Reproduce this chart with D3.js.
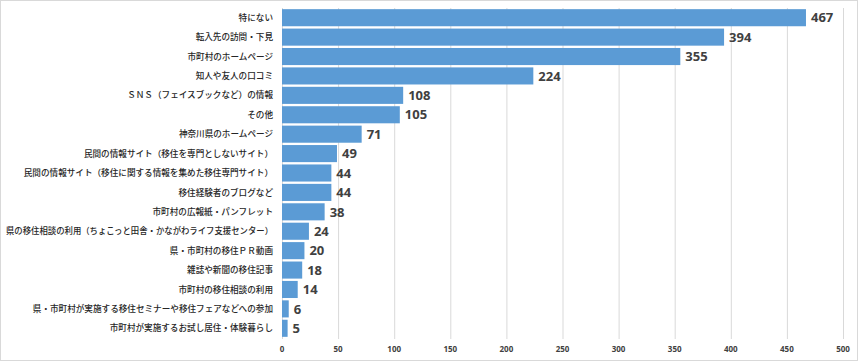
<!DOCTYPE html>
<html><head><meta charset="utf-8">
<script src="https://cdn.jsdelivr.net/npm/d3@7"></script>
<style>body{margin:0;background:#fff}svg{display:block}</style>
</head><body>
<svg id="c" width="858" height="361"></svg>
<script>
const categories = [
"特にない","転入先の訪問・下見","市町村のホームページ","知人や友人の口コミ",
"ＳＮＳ（フェイスブックなど）の情報","その他","神奈川県のホームページ",
"民間の情報サイト（移住を専門としないサイト）","民間の情報サイト（移住に関する情報を集めた移住専門サイト）",
"移住経験者のブログなど","市町村の広報紙・パンフレット","県の移住相談の利用（ちょこっと田舎・かながわライフ支援センター）",
"県・市町村の移住ＰＲ動画","雑誌や新聞の移住記事","市町村の移住相談の利用",
"県・市町村が実施する移住セミナーや移住フェアなどへの参加","市町村が実施するお試し居住・体験暮らし"];
const values = [467,394,355,224,108,105,71,49,44,44,38,24,20,18,14,6,5];
const ticks = [0,50,100,150,200,250,300,350,400,450,500];

const svg = d3.select("#c");
svg.append("rect").attr("x",0.5).attr("y",0.5).attr("width",857).attr("height",360)
  .attr("fill","#fff").attr("stroke","#d9d9d9");
const x = d3.scaleLinear().domain([0,500]).range([282,843]);
const y = d3.scaleBand().domain(categories).range([8,338]).paddingInner(0.12).paddingOuter(0.06);

svg.append("g").selectAll("line").data(ticks).join("line")
  .attr("x1",d=>x(d)+0.5).attr("x2",d=>x(d)+0.5).attr("y1",8).attr("y2",339)
  .attr("stroke","#d9d9d9").attr("stroke-width",1);

svg.append("g").selectAll("rect").data(values).join("rect")
  .attr("x",x(0)).attr("y",(d,i)=>y(categories[i])).attr("width",d=>x(d)-x(0))
  .attr("height",y.bandwidth()).attr("fill","#5b9bd5");

svg.append("g").selectAll("text").data(values).join("text")
  .attr("x",d=>x(d)+5).attr("y",(d,i)=>y(categories[i])+y.bandwidth()/2)
  .attr("dy","0.36em").attr("font-family","'Open Sans',sans-serif").attr("font-weight","bold")
  .attr("font-size",13).attr("fill","#404040").text(d=>d);

const labels = svg.append("g").selectAll("text").data(categories).join("text")
  .attr("x",273).attr("y",d=>y(d)+y.bandwidth()/2).attr("dy","0.36em")
  .attr("text-anchor","end").attr("font-family","'Noto Sans CJK JP',sans-serif")
  .attr("font-size",8.6).attr("font-weight",500).attr("fill","#262626").text(d=>d);
labels.each(function(){
  const w = this.getComputedTextLength();
  if (w > 267) d3.select(this).attr("textLength",267).attr("lengthAdjust","spacingAndGlyphs");
});

svg.append("g").selectAll("text").data(ticks).join("text")
  .attr("x",d=>x(d)).attr("y",352).attr("text-anchor","middle")
  .attr("font-family","'Open Sans',sans-serif").attr("font-weight","bold")
  .attr("font-size",8).attr("fill","#404040").text(d=>d);
</script>
</body></html>
